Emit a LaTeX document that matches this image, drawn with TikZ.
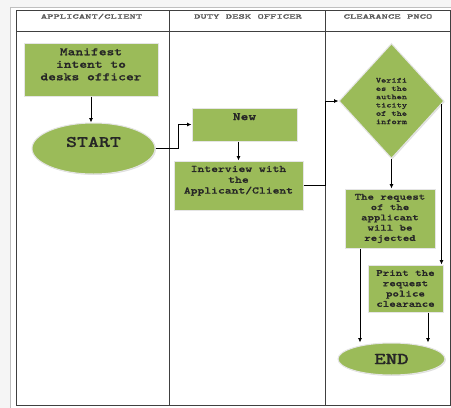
\documentclass[tikz,border=0pt]{standalone}
\usepackage{fontspec}
\newfontfamily\boxfont{lmmonolt10-bold.otf}[FakeStretch=1.3, FakeBold=0.8]
\newfontfamily\lanefont{lmmonolt10-bold.otf}[FakeStretch=1.7, FakeBold=0.5]
\usetikzlibrary{arrows.meta,shapes.geometric,shadows,positioning}
\definecolor{boxgreen}{HTML}{9BBB59}
\newcommand{\txtsize}[2]{\fontsize{#1}{#2}\selectfont}

\begin{document}
\begin{tikzpicture}[x=1pt, y=-1pt,
    lane/.style={draw=black!75, line width=1pt},
    lanehead/.style={font=\lanefont\txtsize{7.1}{9}, text=black!65},
    flowbox/.style={rectangle, draw=black!10, line width=1pt, fill=boxgreen, inner sep=0pt,
      drop shadow={shadow xshift=0.9pt, shadow yshift=-0.9pt, opacity=0.25},
      align=center, text=black!85},
    flowoval/.style={flowbox, ellipse},
    flowdiam/.style={flowbox, diamond},
    boxtext/.style={align=center, text=black!85},
    flow/.style={line width=0.8pt, -{Latex[length=4.5pt,width=4pt]}}]
    \useasboundingbox (0,0) rectangle (451,408);
    % ---- page and swimlanes
    \fill[black!4] (0,0) rectangle (451,408);
    \fill[white] (10,7) rectangle (451,408);
    \draw[black!25, line width=0.6pt] (10,408) -- (10,7) -- (451,7);
    \draw[lane] (16,10) rectangle (450,405);
    \draw[lane] (16,31) -- (450,31);
    \draw[lane] (169,10) -- (169,405);
    \draw[lane] (325,10) -- (325,405);
    \node[lanehead] (h1) at (91.5,16.5) {APPLICANT/CLIENT};
    \node[lanehead] (h2) at (248,16.5) {DUTY DESK OFFICER};
    \node[lanehead] (h3) at (388,16.5) {CLEARANCE PNCO};
    % ---- applicant/client
    \node[flowbox, minimum width=134pt, minimum height=53pt,
      label={[boxtext, font=\boxfont\txtsize{11.4}{12.5}, yshift=5.2pt]center:{Manifest\\intent to\\desks officer}}]
      (m) at (91,69.5) {};
    \node[flowoval, minimum width=123pt, minimum height=51pt,
      label={[boxtext, font=\boxfont\txtsize{16.1}{18}, yshift=6.5pt]center:START}]
      (st) at (93.5,148.5) {};
    % ---- duty desk officer
    \node[flowbox, minimum width=105pt, minimum height=33pt,
      label={[boxtext, font=\boxfont\txtsize{11.4}{12.5}, yshift=7.8pt]center:New}]
      (n) at (244.5,124.5) {};
    \node[flowbox, minimum width=129pt, minimum height=49pt,
      label={[boxtext, font=\boxfont\txtsize{10}{10.8}, yshift=4.7pt]center:{Interview with\\the\\Applicant/Client}}]
      (iv) at (238.5,185.5) {};
    % ---- clearance pnco
    \node[flowdiam, minimum width=105pt, minimum height=115pt,
      font=\boxfont\txtsize{7.6}{8.3}]
      (d) at (391.5,101) {Verifi\\es the\\authen\\ticity\\of the\\inform};
    \node[flowbox, minimum width=90pt, minimum height=59pt,
      font=\boxfont\txtsize{9.4}{10.3}]
      (rj) at (390,218.5) {The request\\of the\\applicant\\will be\\rejected};
    \node[flowbox, minimum width=75pt, minimum height=47pt,
      font=\boxfont\txtsize{9.5}{10.3}]
      (p) at (405.5,288.5) {Print the\\request\\police\\clearance};
    \node[flowoval, minimum width=107pt, minimum height=32pt,
      font=\boxfont\txtsize{16.8}{18}]
      (e) at (391.5,359) {END};
    % ---- connectors
    \draw[flow] (m.south) -- (m.south |- st.north);
    \draw[flow] (st.east) -- ++(23,0) |- (n.west);
    \draw[flow] (n.south -| iv.north) -- (iv.north);
    \draw[flow] (iv.east) -- ++(22,0) |- (d.west);
    \draw[flow] (d.south) -- (d.south |- rj.north);
    \coordinate (dr) at ([xshift=-3pt, yshift=-3pt]d.east);
    \draw[flow] (dr) -- (dr |- p.north);
    \coordinate (rl) at ([xshift=-30pt]rj.south);
    \draw[flow] (rl) -- (rl |- e.north);
    \coordinate (pl) at ([xshift=22.5pt]p.south);
    \draw[flow] (pl) -- (pl |- e.north);
\end{tikzpicture}
\end{document}
